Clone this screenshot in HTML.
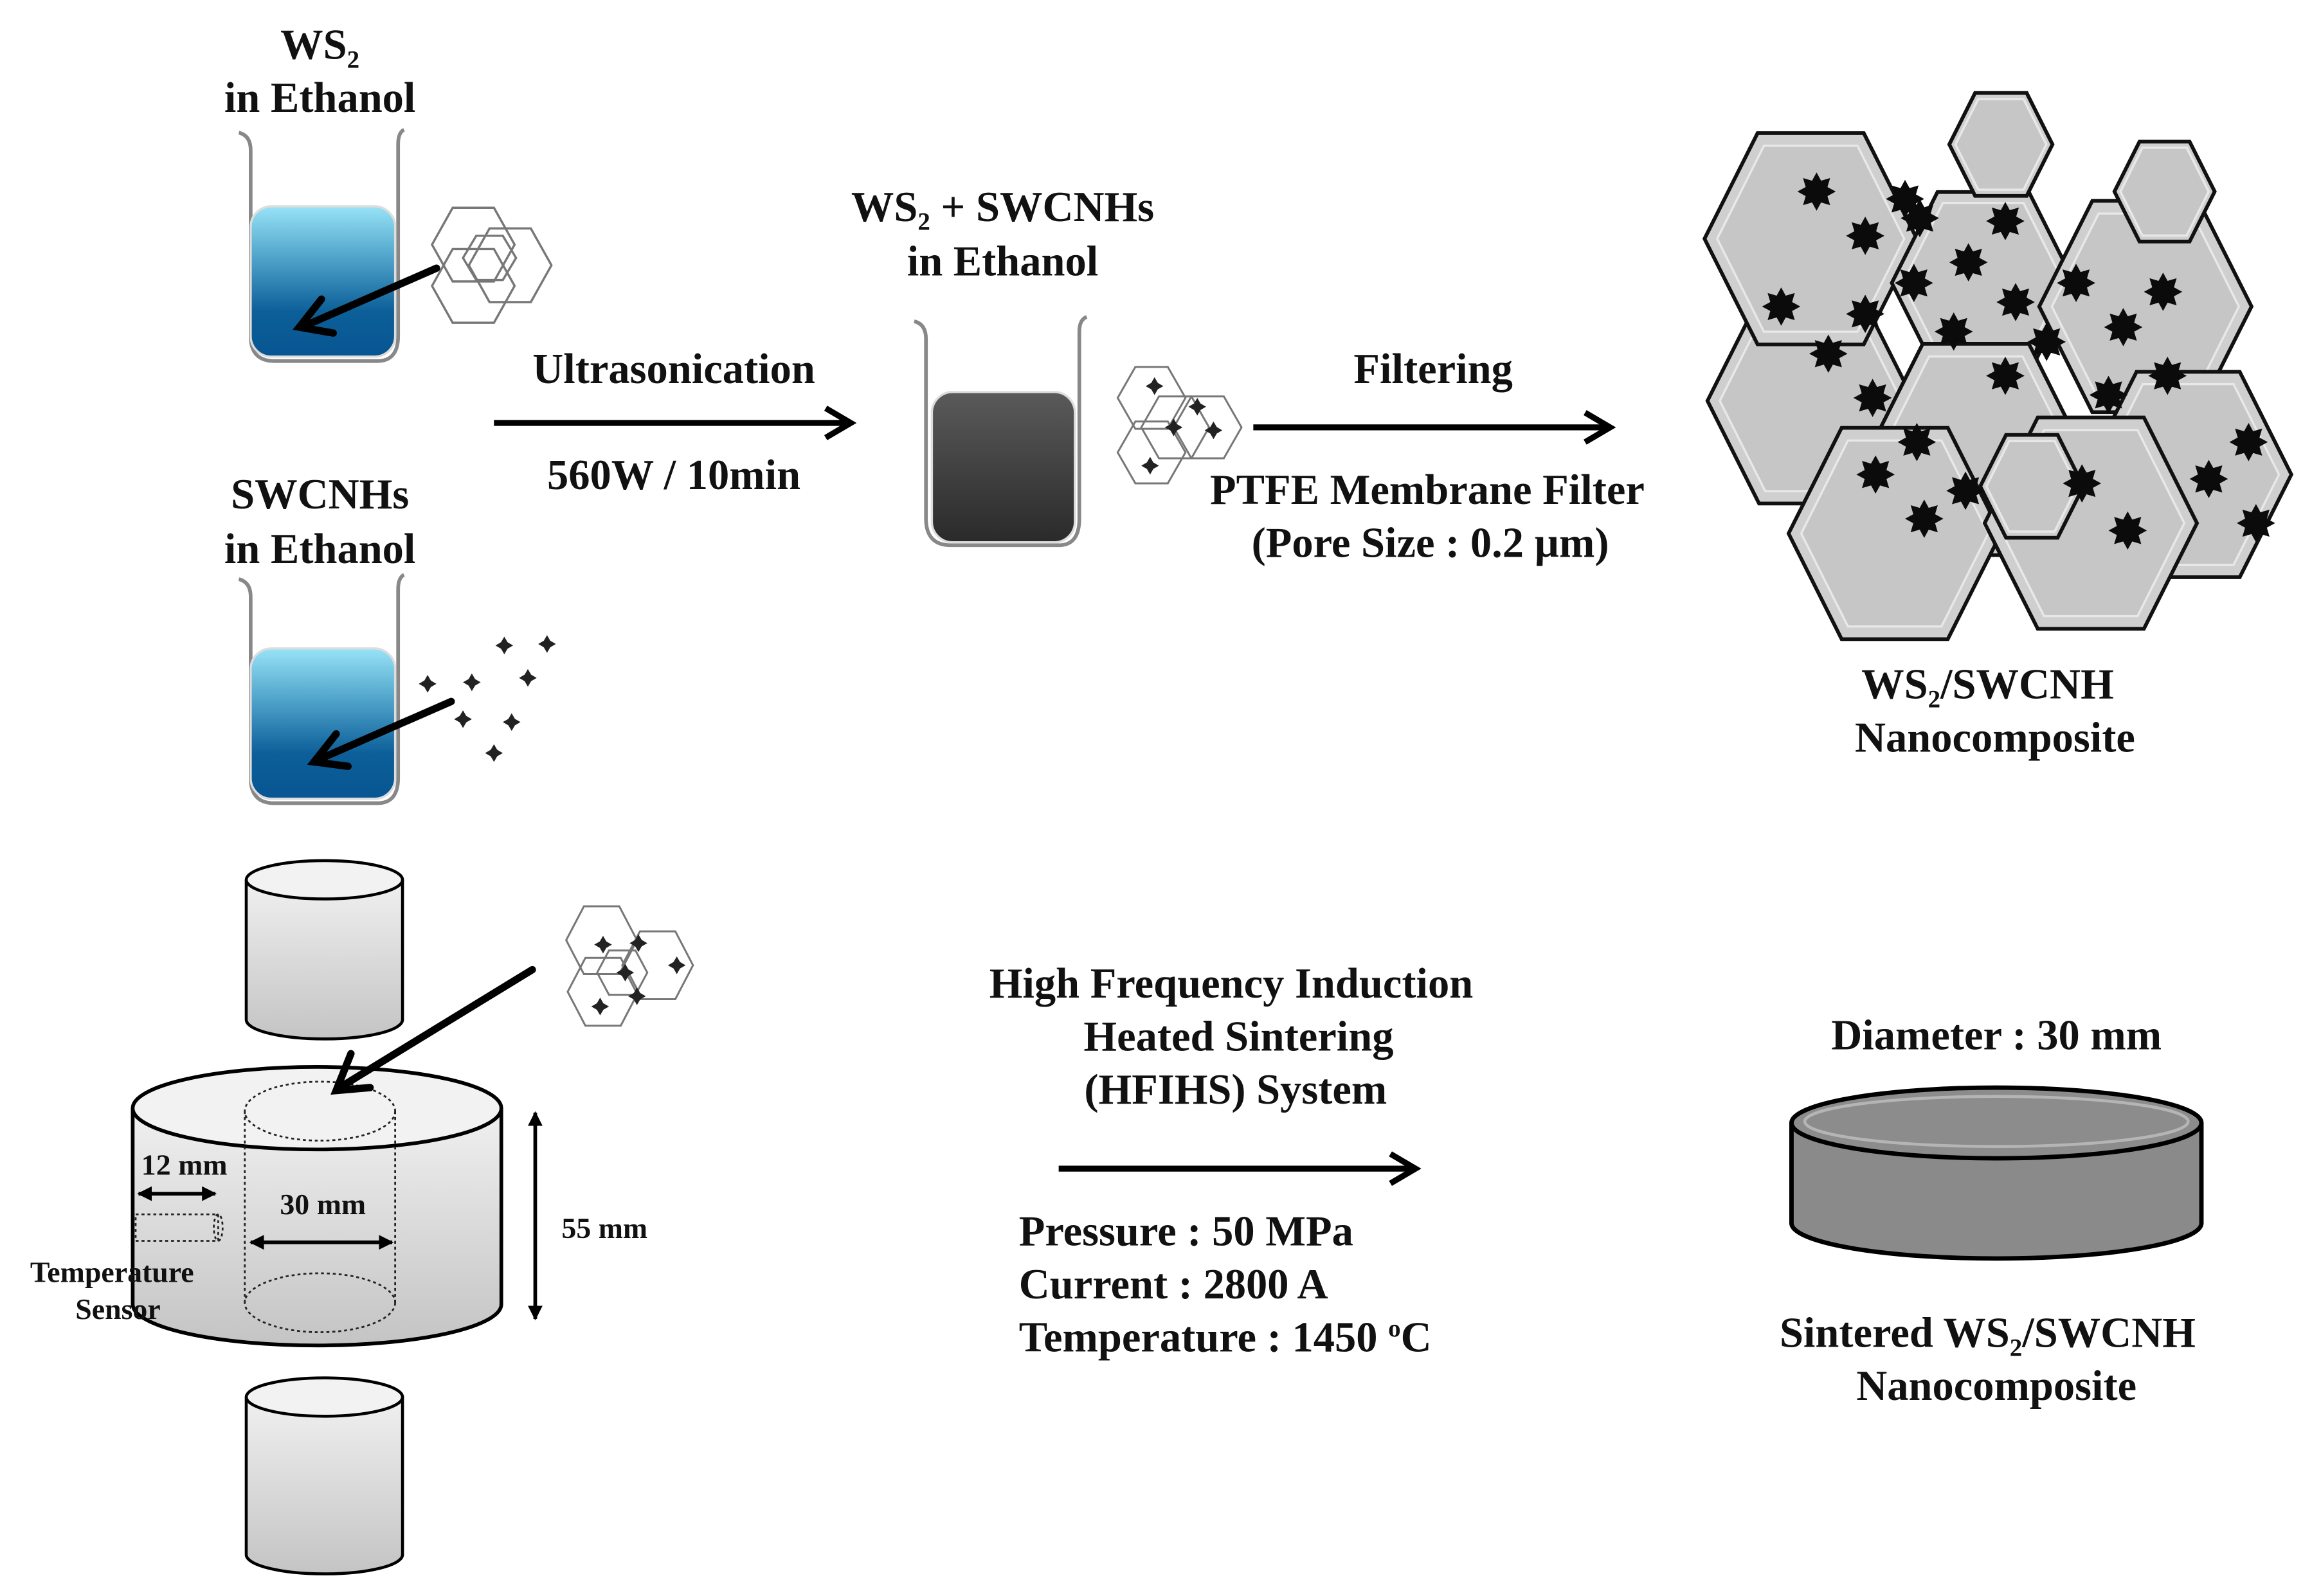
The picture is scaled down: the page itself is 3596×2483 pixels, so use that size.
<!DOCTYPE html>
<html><head><meta charset="utf-8">
<style>
html,body{margin:0;padding:0;background:#fff;}
svg{display:block;}
text{font-family:"Liberation Serif",serif;font-weight:bold;fill:#111;}
</style></head>
<body>
<svg id="s" width="3596" height="2483" viewBox="0 0 1568 1083" preserveAspectRatio="none" xmlns="http://www.w3.org/2000/svg">
<defs>
<linearGradient id="blue" x1="0" y1="0" x2="0" y2="1">
<stop offset="0" stop-color="#97e3f7"/><stop offset="0.35" stop-color="#4ea2c9"/><stop offset="0.7" stop-color="#0c5f99"/><stop offset="1" stop-color="#075592"/></linearGradient>
<linearGradient id="dark" x1="0" y1="0" x2="0" y2="1">
<stop offset="0" stop-color="#5a5a5a"/><stop offset="1" stop-color="#2a2a2a"/></linearGradient>
<linearGradient id="cyl" x1="0" y1="0" x2="0" y2="1">
<stop offset="0" stop-color="#f0f0f0"/><stop offset="1" stop-color="#c4c4c4"/></linearGradient>
<marker id="tri" viewBox="0 0 10 10" refX="9" refY="5" markerWidth="4" markerHeight="4" orient="auto-start-reverse"><path d="M0,0 L10,5 L0,10 z" fill="#000"/></marker>
<path id="star" d="M13,0 7.39,3.06 9.19,9.19 3.06,7.39 0,13 -3.06,7.39 -9.19,9.19 -7.39,3.06 -13,0 -7.39,-3.06 -9.19,-9.19 -3.06,-7.39 0,-13 3.06,-7.39 9.19,-9.19 7.39,-3.06Z" fill="#0b0b0b"/>
<g id="dot"><path d="M6,0 2.2,2.2 0,6 -2.2,2.2 -6,0 -2.2,-2.2 0,-6 2.2,-2.2Z" fill="#222"/></g>
</defs>

<g font-size="29">
<text x="217" y="40" text-anchor="middle">WS<tspan font-size="17" dy="6">2</tspan></text>
<text x="217" y="76" text-anchor="middle">in Ethanol</text>
<text x="217" y="345" text-anchor="middle">SWCNHs</text>
<text x="217" y="382" text-anchor="middle">in Ethanol</text>
<text x="680" y="150" text-anchor="middle">WS<tspan font-size="17" dy="6">2</tspan><tspan dy="-6"> + SWCNHs</tspan></text>
<text x="680" y="187" text-anchor="middle">in Ethanol</text>
<text x="457" y="260" text-anchor="middle">Ultrasonication</text>
<text x="457" y="332" text-anchor="middle">560W / 10min</text>
<text x="972" y="260" text-anchor="middle">Filtering</text>
<text x="968" y="342" text-anchor="middle">PTFE Membrane Filter</text>
<text x="970" y="378" text-anchor="middle">(Pore Size : 0.2 µm)</text>
<text x="1348" y="474" text-anchor="middle">WS<tspan font-size="17" dy="6">2</tspan><tspan dy="-6">/SWCNH</tspan></text>
<text x="1353" y="510" text-anchor="middle">Nanocomposite</text>
<text x="835" y="677" text-anchor="middle">High Frequency Induction</text>
<text x="840" y="713" text-anchor="middle">Heated Sintering</text>
<text x="838" y="749" text-anchor="middle">(HFIHS) System</text>
<text x="691" y="845">Pressure  : 50 MPa</text>
<text x="691" y="881">Current  : 2800 A</text>
<text x="691" y="917">Temperature  : 1450 <tspan font-size="17" dy="-10">o</tspan><tspan dy="10">C</tspan></text>
<text x="1354" y="712" text-anchor="middle">Diameter : 30 mm</text>
<text x="1348" y="914" text-anchor="middle">Sintered WS<tspan font-size="17" dy="6">2</tspan><tspan dy="-6">/SWCNH</tspan></text>
<text x="1354" y="950" text-anchor="middle">Nanocomposite</text>
</g>

<g stroke="#000" stroke-width="4" fill="none">
<line x1="335" y1="287" x2="576" y2="287"/><path d="M560,277 L577,287 L560,297"/>
<line x1="850" y1="290" x2="1091" y2="290"/><path d="M1075,280 L1092,290 L1075,300"/>
<line x1="718" y1="793" x2="959" y2="793"/><path d="M943,783 L960,793 L943,803"/>
</g>

<path d="M162,90 Q170,92 170,102 L170,228 Q170,245 186,245 L256,245 Q270,245 270,228 L270,98 Q270,90 274,88" fill="none" stroke="#888" stroke-width="2.5"/>
<rect x="170" y="140" width="98" height="102" rx="14" fill="url(#blue)" stroke="#ddd" stroke-width="1.5"/>
<g fill="none" stroke="#777" stroke-width="1.5">
<polygon points="293,166 307,141 335,141 349,166 335,191 307,191"/>
<polygon points="318,180 332,155 360,155 374,180 360,205 332,205"/>
<polygon points="293,194 307,169 335,169 349,194 335,219 307,219"/>
<polygon points="314,175 323,160 341,160 350,175 341,190 323,190"/>
</g>
<g stroke="#000" stroke-width="5" fill="none" stroke-linecap="round"><line x1="296" y1="182" x2="207" y2="221"/><path d="M218,203 L203,222 L226,226"/></g>

<path d="M162,393 Q170,395 170,405 L170,528 Q170,545 186,545 L256,545 Q270,545 270,528 L270,400 Q270,392 274,390" fill="none" stroke="#888" stroke-width="2.5"/>
<rect x="170" y="440" width="98" height="102" rx="14" fill="url(#blue)" stroke="#ddd" stroke-width="1.5"/>
<g stroke="#000" stroke-width="5" fill="none" stroke-linecap="round"><line x1="306" y1="476" x2="217" y2="515"/><path d="M228,498 L213,517 L236,520"/></g>
<use href="#dot" x="342" y="438"/><use href="#dot" x="371" y="437"/><use href="#dot" x="290" y="464"/><use href="#dot" x="320" y="463"/><use href="#dot" x="358" y="460"/><use href="#dot" x="314" y="488"/><use href="#dot" x="347" y="490"/><use href="#dot" x="335" y="511"/>

<path d="M620,218 Q628,220 628,230 L628,352 Q628,370 645,370 L718,370 Q732,370 732,352 L732,225 Q732,217 737,215" fill="none" stroke="#888" stroke-width="2.5"/>
<rect x="632" y="266" width="97" height="102" rx="14" fill="url(#dark)" stroke="#ddd" stroke-width="1.5"/>
<g fill="none" stroke="#777" stroke-width="1.3">
<polygon points="758,270 770,249 792,249 804,270 792,291 770,291"/>
<polygon points="774,290 786,269 808,269 820,290 808,311 786,311"/>
<polygon points="796,290 808,269 830,269 842,290 830,311 808,311"/>
<polygon points="758,307 770,286 792,286 804,307 792,328 770,328"/>
</g>
<use href="#dot" x="783" y="262"/><use href="#dot" x="796" y="290"/><use href="#dot" x="823" y="292"/><use href="#dot" x="780" y="316"/><use href="#dot" x="812" y="276"/>

<g id="hexes"></g>
<g id="stars"></g>

<path d="M167,597 L167,692 A53,13 0 0 0 273,692 L273,597" fill="url(#cyl)" stroke="#000" stroke-width="2"/>
<ellipse cx="220" cy="597" rx="53" ry="13" fill="#f2f2f2" stroke="#000" stroke-width="2"/>
<path d="M90,752 L90,885 A125,28 0 0 0 340,885 L340,752" fill="url(#cyl)" stroke="#000" stroke-width="2.5"/>
<ellipse cx="215" cy="752" rx="125" ry="28" fill="#f2f2f2" stroke="#000" stroke-width="2.5"/>
<g fill="none" stroke="#222" stroke-width="1.2" stroke-dasharray="2,2">
<ellipse cx="217" cy="754" rx="51" ry="20"/>
<ellipse cx="217" cy="884" rx="51" ry="20"/>
<line x1="166" y1="754" x2="166" y2="884"/><line x1="268" y1="754" x2="268" y2="884"/>
<rect x="92" y="824" width="56" height="18"/>
<ellipse cx="148" cy="833" rx="3" ry="9"/>
</g>
<g stroke="#000" stroke-width="2.5" fill="none">
<line x1="94" y1="810" x2="146" y2="810" marker-start="url(#tri)" marker-end="url(#tri)"/>
<line x1="170" y1="843" x2="266" y2="843" marker-start="url(#tri)" marker-end="url(#tri)"/>
<line x1="363" y1="755" x2="363" y2="895" marker-start="url(#tri)" marker-end="url(#tri)"/>
</g>
<g font-size="20">
<text x="125" y="797" text-anchor="middle">12 mm</text>
<text x="219" y="824" text-anchor="middle">30 mm</text>
<text x="410" y="840" text-anchor="middle">55 mm</text>
<text x="76" y="870" text-anchor="middle">Temperature</text>
<text x="80" y="895" text-anchor="middle">Sensor</text>
</g>
<g stroke="#000" stroke-width="5" fill="none" stroke-linecap="round"><line x1="361" y1="658" x2="232" y2="737"/><path d="M238,715 L228,740 L251,738"/></g>
<g fill="none" stroke="#777" stroke-width="1.3">
<polygon points="384,638 396,615 420,615 432,638 420,661 396,661"/>
<polygon points="422,655 434,632 458,632 470,655 458,678 434,678"/>
<polygon points="385,673 397,650 421,650 433,673 421,696 397,696"/>
<polygon points="405,660 413,645 431,645 439,660 431,675 413,675"/>
</g>
<use href="#dot" x="409" y="641"/><use href="#dot" x="433" y="640"/><use href="#dot" x="424" y="660"/><use href="#dot" x="459" y="655"/><use href="#dot" x="407" y="683"/><use href="#dot" x="432" y="676"/>
<path d="M167,948 L167,1055 A53,13 0 0 0 273,1055 L273,948" fill="url(#cyl)" stroke="#000" stroke-width="2"/>
<ellipse cx="220" cy="948" rx="53" ry="13" fill="#f2f2f2" stroke="#000" stroke-width="2"/>

<path d="M1215,762 L1215,830 A139,24 0 0 0 1493,830 L1493,762" fill="#8a8a8a" stroke="#000" stroke-width="3"/>
<ellipse cx="1354" cy="762" rx="139" ry="24" fill="#8c8c8c" stroke="#000" stroke-width="3"/>
<ellipse cx="1354" cy="761" rx="130" ry="17" fill="none" stroke="#b5b5b5" stroke-width="2"/>

<script>
var hx=[[1228,272,70],[1228,162,72],[1345,192,62],[1357,98,35],[1455,208,72],[1468,130,34],[1484,322,70],[1340,305,72],[1285,362,72],[1418,355,72],[1378,330,35]];
var ns="http://www.w3.org/2000/svg",g=document.getElementById('hexes');
function pts(c,y,R){var p=[];for(var i=0;i<6;i++){var a=i*Math.PI/3;p.push((c+R*Math.cos(a)).toFixed(1)+','+(y+R*1.15*Math.sin(a)).toFixed(1));}return p.join(' ');}
hx.forEach(function(h){
var e=document.createElementNS(ns,'polygon');e.setAttribute('points',pts(h[0],h[1],h[2]));e.setAttribute('fill','#cfcfcf');e.setAttribute('stroke','#111');e.setAttribute('stroke-width','2.5');g.appendChild(e);
var f=document.createElementNS(ns,'polygon');f.setAttribute('points',pts(h[0],h[1],h[2]*0.88));f.setAttribute('fill','#c6c6c6');f.setAttribute('stroke','#e8e8e8');f.setAttribute('stroke-width','1.5');g.appendChild(f);});
var st=[[1232,130],[1265,160],[1292,135],[1302,148],[1335,178],[1360,150],[1298,192],[1208,208],[1265,213],[1240,240],[1325,225],[1360,255],[1408,192],[1467,198],[1440,222],[1430,268],[1470,255],[1388,232],[1270,270],[1300,300],[1272,322],[1305,352],[1333,333],[1412,328],[1443,360],[1525,300],[1498,325],[1530,355],[1367,205]];
var sg=document.getElementById('stars');
st.forEach(function(s){var u=document.createElementNS(ns,'use');u.setAttribute('href','#star');u.setAttribute('x',s[0]);u.setAttribute('y',s[1]);sg.appendChild(u);});
</script>
</svg>
</body></html>
